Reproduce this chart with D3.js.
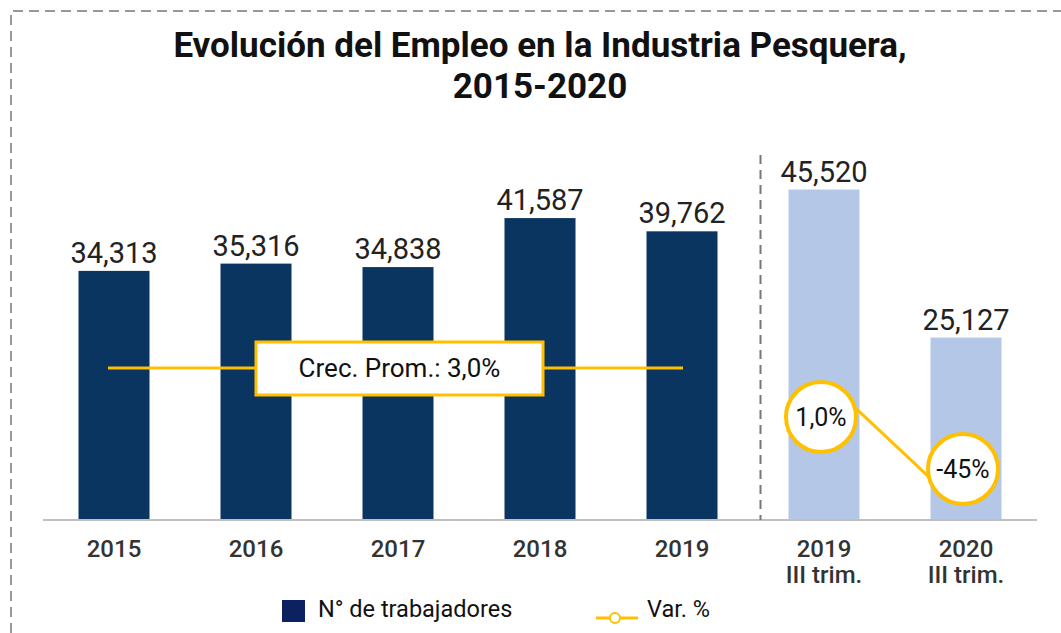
<!DOCTYPE html>
<html>
<head>
<meta charset="utf-8">
<script src="https://cdn.jsdelivr.net/npm/d3@7"></script>
<style>
  body { margin: 0; background: #fff; }
  text { font-family: Roboto, "Noto Sans", sans-serif; }
</style>
</head>
<body>
<script>
const width = 1061;
const height = 633;

// data
const categories = ['2015', '2016', '2017', '2018', '2019', '2019 III trim.', '2020 III trim.'];
const tickLines = [['2015'], ['2016'], ['2017'], ['2018'], ['2019'], ['2019', 'III trim.'], ['2020', 'III trim.']];
const workers = [34313, 35316, 34838, 41587, 39762, 45520, 25127];
const quarterly = [false, false, false, false, false, true, true];
const varCats = ['2019 III trim.', '2020 III trim.'];
const varValues = [1.0, -45];
const varLabels = ['1,0%', '-45%'];
const avgGrowthLabel = 'Crec. Prom.: 3,0%';

const navy = '#0b3561';
const lightBlue = '#b4c7e7';
const yellow = '#ffc000';

const svg = d3.select('body')
    .append('svg')
    .attr('width', width)
    .attr('height', height);

// outer dashed frame
svg.append('path')
    .attr('d', 'M11,633 V11 H1061')
    .attr('fill', 'none')
    .attr('stroke', '#999')
    .attr('stroke-width', 2)
    .attr('stroke-dasharray', '10,6');

// title
svg.append('text')
    .attr('x', 540).attr('y', 57)
    .attr('text-anchor', 'middle')
    .attr('font-size', 35).attr('font-weight', 700)
    .attr('fill', '#111')
    .text('Evolución del Empleo en la Industria Pesquera,');
svg.append('text')
    .attr('x', 540).attr('y', 98)
    .attr('text-anchor', 'middle')
    .attr('font-size', 35).attr('font-weight', 700)
    .attr('fill', '#111')
    .text('2015-2020');

const x = d3.scaleBand()
    .domain(categories)
    .range([43, 1037])
    .paddingInner(0.5)
    .paddingOuter(0.25);

const y = d3.scaleLinear()
    .domain([0, 50000])
    .range([520, 157]);

// var % scale (secondary)
const y2 = d3.scaleLinear()
    .domain([-45, 1])
    .range([469, 417]);

// bars
svg.selectAll('rect.bar')
    .data(workers)
    .enter()
    .append('rect')
    .attr('class', 'bar')
    .attr('x', (d, i) => x(categories[i]))
    .attr('y', d => y(d))
    .attr('width', x.bandwidth())
    .attr('height', d => y(0) - y(d))
    .attr('fill', (d, i) => quarterly[i] ? lightBlue : navy);

// value labels
svg.selectAll('text.val')
    .data(workers)
    .enter()
    .append('text')
    .attr('class', 'val')
    .attr('x', (d, i) => x(categories[i]) + x.bandwidth() / 2)
    .attr('y', d => y(d) - 8)
    .attr('text-anchor', 'middle')
    .attr('font-size', 29)
    .attr('fill', '#222')
    .text(d => d3.format(',')(d));

// baseline
svg.append('line')
    .attr('x1', 43).attr('x2', 1037)
    .attr('y1', y(0)).attr('y2', y(0))
    .attr('stroke', '#bfbfbf')
    .attr('stroke-width', 2);

// x axis labels
const ticks = svg.selectAll('text.tick')
    .data(tickLines)
    .enter()
    .append('text')
    .attr('class', 'tick')
    .attr('text-anchor', 'middle')
    .attr('font-size', 24)
    .attr('font-weight', 500)
    .attr('fill', '#333');
ticks.selectAll('tspan')
    .data((d, i) => d.map(s => ({ s, i })))
    .enter()
    .append('tspan')
    .attr('x', d => x(categories[d.i]) + x.bandwidth() / 2)
    .attr('y', (d, j) => 557 + j * 26)
    .text(d => d.s);

// separator between annual and quarterly
const sepX = x(categories[5]) - 28;
svg.append('line')
    .attr('x1', sepX).attr('x2', sepX)
    .attr('y1', 155).attr('y2', y(0))
    .attr('stroke', '#777')
    .attr('stroke-width', 2)
    .attr('stroke-dasharray', '9,6');

// average growth annotation
const avgY = 368;
svg.append('line')
    .attr('x1', x(categories[0]) + x.bandwidth() / 2 - 6)
    .attr('x2', x(categories[4]) + x.bandwidth() / 2 + 1)
    .attr('y1', avgY).attr('y2', avgY)
    .attr('stroke', yellow)
    .attr('stroke-width', 3);
svg.append('rect')
    .attr('x', 256).attr('y', avgY - 26)
    .attr('width', 287).attr('height', 53)
    .attr('fill', '#fff')
    .attr('stroke', yellow)
    .attr('stroke-width', 3);
svg.append('text')
    .attr('x', 399.5).attr('y', avgY + 9)
    .attr('text-anchor', 'middle')
    .attr('font-size', 26)
    .attr('fill', '#111')
    .text(avgGrowthLabel);

// var % line with circles
const r = 35;
const cx = c => x(c) + x.bandwidth() / 2 - 3;
const pts = varValues.map((d, i) => [cx(varCats[i]), y2(d)]);
svg.append('line')
    .attr('x1', pts[0][0] + r * 0.96).attr('y1', pts[0][1] - r * 0.28)
    .attr('x2', pts[1][0] - r * 0.96).attr('y2', pts[1][1] + r * 0.24)
    .attr('stroke', yellow)
    .attr('stroke-width', 3);

svg.selectAll('circle.var')
    .data(pts)
    .enter()
    .append('circle')
    .attr('class', 'var')
    .attr('cx', d => d[0])
    .attr('cy', d => d[1])
    .attr('r', r)
    .attr('fill', '#fff')
    .attr('stroke', yellow)
    .attr('stroke-width', 4);

svg.selectAll('text.var')
    .data(pts)
    .enter()
    .append('text')
    .attr('class', 'var')
    .attr('x', d => d[0])
    .attr('y', d => d[1] + 9)
    .attr('text-anchor', 'middle')
    .attr('font-size', 25)
    .attr('fill', '#111')
    .text((d, i) => varLabels[i]);

// legend
svg.append('rect')
    .attr('x', 282).attr('y', 600)
    .attr('width', 23).attr('height', 22)
    .attr('fill', '#0c2260');
svg.append('text')
    .attr('x', 318).attr('y', 617)
    .attr('font-size', 23.5)
    .attr('fill', '#111')
    .text('N° de trabajadores');
svg.append('line')
    .attr('x1', 596).attr('x2', 638)
    .attr('y1', 618).attr('y2', 618)
    .attr('stroke', yellow)
    .attr('stroke-width', 3);
svg.append('circle')
    .attr('cx', 615).attr('cy', 618)
    .attr('r', 5)
    .attr('fill', '#fff')
    .attr('stroke', yellow)
    .attr('stroke-width', 2);
svg.append('text')
    .attr('x', 647).attr('y', 617)
    .attr('font-size', 23.5)
    .attr('fill', '#111')
    .text('Var. %');
</script>
</body>
</html>
